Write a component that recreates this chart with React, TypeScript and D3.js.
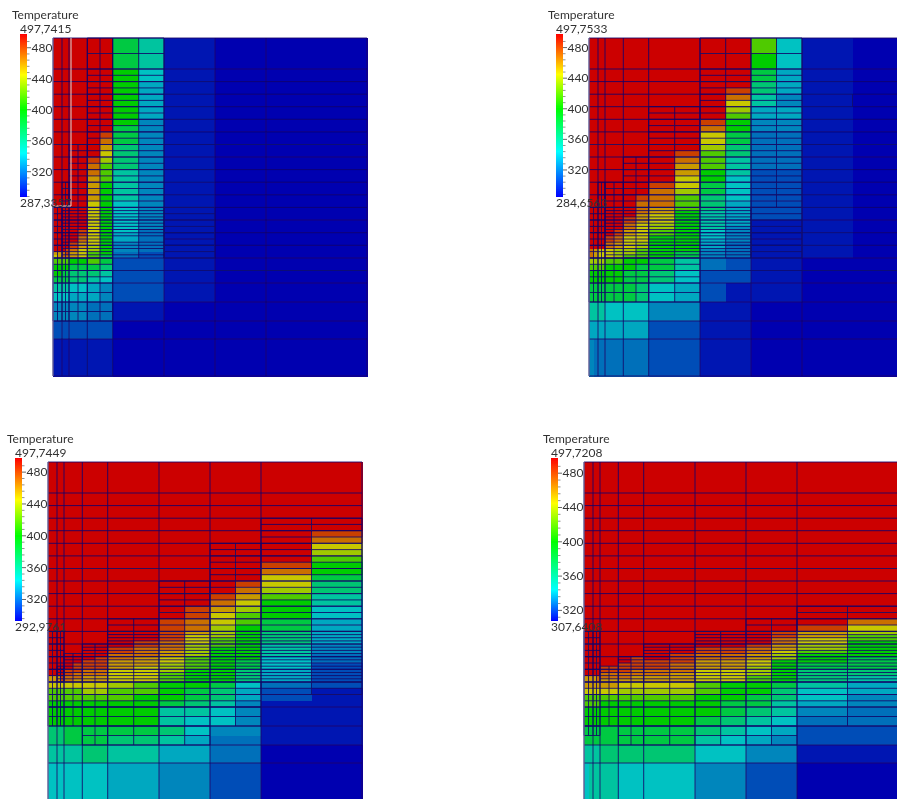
import React from "react";
import * as d3 from "d3";

// Mesh axes (cell edges, in mesh units)
const colEdges = [0, 4.5, 9, 12.5, 16, 25, 34.3, 47, 59.7, 85.7, 111, 136.7, 162, 187.5, 213, 263.5, 314];
const rowEdges = [0, 15.5, 31, 37.3, 43.6, 49.9, 56.2, 62.4, 68.7, 75, 81.3, 87.6, 93.9, 100.2, 106.5, 112.7, 119, 125.3, 131.6, 137.9, 144.2, 150.5, 156.8, 163, 169.4, 172.6, 175.7, 178.9, 182, 185.2, 188.4, 191.5, 194.7, 197.8, 201, 204.2, 207.3, 210.5, 213.6, 216.8, 220, 226.3, 232.5, 238.8, 245, 254.5, 264, 273.5, 283, 301, 338];

// Temperature of each letter used in the cell tables
const levelLetters = "abcdefghijklmnopqr";
const levelTemps = [292, 298, 313, 322, 328, 337, 344, 354, 367, 381, 400, 418, 436, 445, 457, 468, 480, 497];

const panel1Cells = [
  "rrrrrrrrjhbbaaaa", "rrrrrrrrjhbbaaaa", "rrrrrrrrkgbbaaaa", "rrrrrrrrkgbbaaaa", "rrrrrrrrkfbbaaaa",
  "rrrrrrrrkfbbaaaa", "rrrrrrrrkfbbaaaa", "rrrrrrrrkfbbaaaa", "rrrrrrrrkfbbaaaa", "rrrrrrrrkfbbaaaa",
  "rrrrrrrrkebbaaaa", "rrrrrrrrjebbaaaa", "rrrrrrrqjebbaaaa", "rrrrrrrpjebbaaaa", "rrrrrrroiebbaaaa",
  "rrrrrrrniebbaaaa", "rrrrrrqmiebbaaaa", "rrrrrrpliebbaaaa", "rrrrrrplhebbaaaa", "rrrrrrolhebbaaaa",
  "rrrrrrokhebbaaaa", "rrrrrrokhebbaaaa", "rrrrrrokhebbaaaa", "rrrrrrnkgebbaaaa", "rrrrrrnkgebbaaaa",
  "rrrrrrnkgebbaaaa", "rrrrrrnkgebbaaaa", "rrrrrrnkgebbaaaa", "rrrrrrnkgebbaaaa", "rrrrrrnkgebbaaaa",
  "rrrrrrnkgebbaaaa", "rrrrrqnkgdbbaaaa", "rrrrrqnkfdbbaaaa", "rrrrrpnkfdbbaaaa", "rrrrrpnkfdbbaaaa",
  "rrrrqonkedbbaaaa", "rrrrqomkedbbaaaa", "rrrqpnmkedbbaaaa", "oopqonlkdcbbaaaa", "nopponljdcbbaaaa",
  "llllkkljccbbaaaa", "kkkkjjjiccbbaaaa", "kkjjiiihccbbaaaa", "jjjjiihgccbbaaaa", "hhhhggfeccbbaaaa",
  "ggggfffeccbbaaaa", "eeeeeeddbbaaaaaa", "eeeeeeddbbaaaaaa", "ccccccccaaaaaaaa", "bbbbbbbbaaaaaaaa",
];

const panel2Cells = [
  "rrrrrrrrrrrrlgba", "rrrrrrrrrrrrkgba", "rrrrrrrrrrrrjfba", "rrrrrrrrrrrrjfba", "rrrrrrrrrrrrifba",
  "rrrrrrrrrrrqifba", "rrrrrrrrrrrpheba", "rrrrrrrrrrrnheba", "rrrrrrrrrrrmffba", "rrrrrrrrrrrlffba",
  "rrrrrrrrrrqkeeba", "rrrrrrrrrrpkeeba", "rrrrrrrrrrnjddba", "rrrrrrrrrrnjddba", "rrrrrrrrrrmiddba",
  "rrrrrrrrrqliddba", "rrrrrrrrrplhddba", "rrrrrrrrrolhddba", "rrrrrrrrrokhccba", "rrrrrrrrrnkgccba",
  "rrrrrrrrqnjgccba", "rrrrrrrrpmjgccba", "rrrrrrrqpligccba", "rrrrrrrpplifccba", "rrrrrrrpolifccba",
  "rrrrrrrpokhfccba", "rrrrrrronkhfccba", "rrrrrrqonkhfccba", "rrrrrrqonkhfbbba", "rrrrrrpnmkhfbbba",
  "rrrrrrpnmkhebbba", "rrrrrqonlkgebbba", "rrrrrqonlkgebbba", "rrrrqpnnkkgebbba", "rrrrqpnnkkfebbba",
  "rrrrponmkkfdbbba", "rrrrponmkkfdbbba", "ponnnmmlkkedbbba", "ponnnmmlkjedbbba", "ponnnmllkjedbbba",
  "mmmmllkkjhdcbbaa", "llllkkkjjhdcbbaa", "kkkkkkjjigccbbaa", "kkkkkkjjigccbbaa", "jjjjjjjigfcbbbaa",
  "jjjjjjjigfcbbbaa", "hhhhggggeebbaaaa", "hhhhggggeebbaaaa", "ffffffffccbbaaaa", "edddddddccbbaaaa",
];

const panel3Cells = [
  "rrrrrrrrrrrrrrrr", "rrrrrrrrrrrrrrrr", "rrrrrrrrrrrrrrrr", "rrrrrrrrrrrrrrrr", "rrrrrrrrrrrrrrrr",
  "rrrrrrrrrrrrrrrr", "rrrrrrrrrrrrrrrr", "rrrrrrrrrrrrrrrr", "rrrrrrrrrrrrrrrq", "rrrrrrrrrrrrrrrp",
  "rrrrrrrrrrrrrrrn", "rrrrrrrrrrrrrrrm", "rrrrrrrrrrrrrrrl", "rrrrrrrrrrrrrrqk", "rrrrrrrrrrrrrrpk",
  "rrrrrrrrrrrrrrnj", "rrrrrrrrrrrrrqni", "rrrrrrrrrrrrrpmi", "rrrrrrrrrrrrqolh", "rrrrrrrrrrrrpnkh",
  "rrrrrrrrrrrqomkg", "rrrrrrrrrrrqnlkg", "rrrrrrrrrrqpnljf", "rrrrrrrrrrqpmkjf", "rrrrrrrrrrqomkif",
  "rrrrrrrrrrqnmkif", "rrrrrrrrrrqnlkif", "rrrrrrrrrqpnlkif", "rrrrrrrrrqpmlkhe", "rrrrrrrrqppmkkhe",
  "rrrrrrrrqpomkkhe", "rrrrrrrrppomkkhd", "rrrrrrrqponlkkgd", "rrrrrrqqoonlkjgd", "rrrrrqqqoomlkjgc",
  "rrrrrqqqonmlkjgc", "rrrrqqppnnmkkifc", "rrrrqpppnnlkkifc", "oooqppoonnlkkifc", "oooqpooonnlkkifc",
  "nnnnnnnnmlkkjgdc", "llllllmmllkjifcb", "lllllllllkkjifcb", "kkkkkkkkkkjihebb", "kkkkkkkkkkhhgebb",
  "kkkkkkkkkkhggebb", "iiiijjjjjjigeebb", "iiiijjjjiihfddbb", "hhhhhhiihhffddaa", "ggggggggffeeccaa",
];

const panel4Cells = [
  "rrrrrrrrrrrrrrrr", "rrrrrrrrrrrrrrrr", "rrrrrrrrrrrrrrrr", "rrrrrrrrrrrrrrrr", "rrrrrrrrrrrrrrrr",
  "rrrrrrrrrrrrrrrr", "rrrrrrrrrrrrrrrr", "rrrrrrrrrrrrrrrr", "rrrrrrrrrrrrrrrr", "rrrrrrrrrrrrrrrr",
  "rrrrrrrrrrrrrrrr", "rrrrrrrrrrrrrrrr", "rrrrrrrrrrrrrrrr", "rrrrrrrrrrrrrrrr", "rrrrrrrrrrrrrrrr",
  "rrrrrrrrrrrrrrrr", "rrrrrrrrrrrrrrrr", "rrrrrrrrrrrrrrrr", "rrrrrrrrrrrrrrrr", "rrrrrrrrrrrrrrrr",
  "rrrrrrrrrrrrrrrr", "rrrrrrrrrrrrrrrr", "rrrrrrrrrrrrrrrp", "rrrrrrrrrrrrrrqn", "rrrrrrrrrrrrrqom",
  "rrrrrrrrrrrrrqol", "rrrrrrrrrrrrrpnl", "rrrrrrrrrrrrrpnk", "rrrrrrrrrrrrqomk", "rrrrrrrrrrqqpomk",
  "rrrrrrrrrrqqpnlk", "rrrrrrrrrqppomkk", "rrrrrrrqrqppomkj", "rrrrrrrqqqoonkkj", "rrrrrrqqqpoonkjj",
  "rrrrqqqqqpoomkjj", "rrrrqqqpppnnmkii", "rrrrpppppοnnmkii".replace("ο", "o"), "oooppppooonnlkih", "ooopoooooonnlkih",
  "oooooonnnnlkkjhf", "nnnnnnmmmmlkkigf", "llllllllllkkjige", "llllkkkkkkkjjhfe", "kkkkkkkkkkkjihed",
  "kkkkkkkkkkjihgdd", "jjjjjjjjjjihgfcc", "jjjjjjjjjjhgfecc", "hhhhiiiiiiggeebb", "ghhhhhggggeeccaa",
];

// Mesh structure: column and row indices where grid lines occur
const baseCols = [0, 2, 4, 6, 8, 10, 12, 14, 16];
const baseRows = [0, 2, 4, 6, 8, 10, 12, 14, 16, 18, 20, 22, 24, 28, 32, 36, 40, 42, 44, 46, 48, 49, 50];
// refined blocks: colFrom, colTo, colStep, rowFrom, rowTo, rowStep
const panel1Blocks = [
  [6, 10, 1, 0, 24, 1], [4, 6, 1, 14, 24, 1], [2, 4, 1, 20, 24, 1],
  [2, 8, 1, 24, 40, 1], [8, 10, 1, 24, 31, 1], [8, 10, 1, 31, 40, 2], [0, 2, 1, 24, 40, 2],
  [10, 12, 2, 24, 40, 2], [0, 8, 1, 40, 48, 1],
];
const panel2Blocks = [
  [10, 14, 1, 0, 24, 1], [8, 10, 1, 8, 24, 1], [6, 8, 1, 16, 24, 1], [4, 6, 1, 20, 24, 1],
  [4, 12, 1, 24, 40, 1], [12, 14, 2, 24, 40, 2], [0, 4, 1, 24, 40, 2], [0, 8, 1, 40, 46, 1],
  [8, 10, 1, 40, 46, 1], [15, 15, 1, 6, 8, 2], [2, 4, 1, 20, 24, 2],
];
const panel3Blocks = [
  [14, 16, 1, 6, 24, 1], [12, 14, 1, 10, 24, 1], [10, 12, 1, 16, 24, 1], [8, 10, 1, 22, 24, 1],
  [8, 16, 1, 24, 40, 1], [6, 8, 1, 28, 40, 1], [4, 6, 1, 31, 40, 1], [2, 4, 1, 35, 40, 1],
  [0, 4, 1, 24, 40, 2], [0, 14, 1, 40, 44, 1], [14, 16, 1, 40, 42, 1], [0, 14, 1, 44, 46, 1],
  [6, 12, 1, 46, 48, 1],
];
const panel4Blocks = [
  [14, 16, 1, 20, 24, 1], [12, 14, 1, 22, 24, 1], [10, 16, 1, 24, 40, 1], [8, 10, 1, 28, 40, 1],
  [6, 8, 1, 32, 40, 1], [4, 6, 1, 35, 40, 1], [0, 4, 1, 24, 40, 2], [0, 16, 1, 40, 46, 1],
  [6, 14, 1, 46, 48, 1], [0, 4, 1, 46, 47, 1],
];

const tickMajor = [480, 440, 400, 360, 320];
const tickMinor = [488, 472, 464, 456, 448, 432, 424, 416, 408, 392, 384, 376, 368, 352, 344, 336, 328, 312, 304, 296, 288];

const panels = [
  { title: "Temperature", max: "497,7415", min: "287,3357", lo: 287.3357, hi: 497.7415, cells: panel1Cells, blocks: panel1Blocks, left: 53, top: 38, bar: 20, barTop: 34 },
  { title: "Temperature", max: "497,7533", min: "284,6563", lo: 284.6563, hi: 497.7533, cells: panel2Cells, blocks: panel2Blocks, left: 589, top: 38, bar: 556, barTop: 34 },
  { title: "Temperature", max: "497,7449", min: "292,9761", lo: 292.9761, hi: 497.7449, cells: panel3Cells, blocks: panel3Blocks, left: 48, top: 462, bar: 15, barTop: 458 },
  { title: "Temperature", max: "497,7208", min: "307,6408", lo: 307.6408, hi: 497.7208, cells: panel4Cells, blocks: panel4Blocks, left: 584, top: 462, bar: 551, barTop: 458 },
];

const tempStops = [344, 400, 445];
const cellColor = d3.scaleLinear<string>()
  .domain([292, ...tempStops, 497])
  .range(["#0000b0", "#00c2c2", "#00cc00", "#c8c800", "#cc0000"])
  .clamp(true);
const legendColors = ["#0000ff", "#00ffff", "#00ff00", "#ffff00", "#ff0000"];
const FONT = "Lato, 'Open Sans', sans-serif";
const BAR_H = 163;
const BAR_W = 7;

function Panel({ p, i }: { p: (typeof panels)[number]; i: number }) {
  const x = d3.scaleLinear().domain([0, 314]).range([p.left, p.left + 314]);
  const y = d3.scaleLinear().domain([0, 338]).range([p.top, p.top + 338]);
  const cx = (c: number) => x(colEdges[c]);
  const cy = (r: number) => y(rowEdges[r]);

  const mesh = d3.path();
  const hLine = (r: number, c0: number, c1: number) => { mesh.moveTo(cx(c0), cy(r)); mesh.lineTo(cx(c1), cy(r)); };
  const vLine = (c: number, r0: number, r1: number) => { mesh.moveTo(cx(c), cy(r0)); mesh.lineTo(cx(c), cy(r1)); };
  baseRows.forEach((r) => hLine(r, 0, 16));
  baseCols.forEach((c) => vLine(c, 0, 50));
  p.blocks.forEach(([c0, c1, cs, r0, r1, rs]) => {
    d3.range(c0, c1 + 1, cs).forEach((c) => vLine(c, r0, r1));
    d3.range(r0, r1 + 1, rs).forEach((r) => hLine(r, c0, c1));
  });

  const leg = d3.scaleLinear().domain([p.lo, p.hi]).range([p.barTop + BAR_H, p.barTop]);
  const legColor = d3.scaleLinear<string>().domain([p.lo, ...tempStops, p.hi]).range(legendColors);
  const gradStops = [p.lo, ...tempStops, p.hi];
  const tickX = p.bar + BAR_W;

  return (
    <g>
      <defs>
        <linearGradient id={`leg${i}`} x1="0" y1="1" x2="0" y2="0">
          {gradStops.map((t) => (
            <stop key={t} offset={(t - p.lo) / (p.hi - p.lo)} stopColor={legColor(t)} />
          ))}
        </linearGradient>
      </defs>
      <g shapeRendering="crispEdges">
        {p.cells.map((row, r) =>
          row.split("").map((ch, c) => (
            <rect
              key={`${r}-${c}`}
              x={cx(c)}
              y={cy(r)}
              width={cx(c + 1) - cx(c) + 0.5}
              height={cy(r + 1) - cy(r) + 0.5}
              fill={cellColor(levelTemps[levelLetters.indexOf(ch)])}
            />
          ))
        )}
      </g>
      <path d={mesh.toString()} fill="none" stroke="#14086a" strokeOpacity={0.85} strokeWidth={1} />
      <line x1={p.left} x2={p.left} y1={p.top} y2={p.top + 338} stroke="#8080a8" />
      {i === 0 && (
        <path
          d={`M${x(0)},${y(168)}H${x(18)}V${y(0)}`}
          fill="none"
          stroke="#d8d8d8"
          strokeWidth={1}
        />
      )}
      <rect x={p.bar} y={p.barTop} width={BAR_W} height={BAR_H} fill={`url(#leg${i})`} />
      {tickMinor.filter((t) => t > p.lo && t < p.hi).map((t) => (
        <line key={t} x1={tickX} x2={tickX + 2.5} y1={leg(t)} y2={leg(t)} stroke="#777" strokeWidth={0.8} />
      ))}
      {tickMajor.filter((t) => t > p.lo).map((t) => (
        <g key={t}>
          <line x1={tickX} x2={tickX + 4} y1={leg(t)} y2={leg(t)} stroke="#555" strokeWidth={0.9} />
          <text x={tickX + 4.5} y={leg(t) + 4} fontSize={12} fontFamily={FONT} fill="#333">{t}</text>
        </g>
      ))}
      <text x={p.bar - 8} y={p.barTop - 15} fontSize={12} fontFamily={FONT} fill="#333">{p.title}</text>
      <text x={p.bar} y={p.barTop - 1} fontSize={12} fontFamily={FONT} fill="#333">{p.max}</text>
      <text x={p.bar} y={p.barTop + BAR_H + 10} fontSize={12} fontFamily={FONT} fill="#333">{p.min}</text>
    </g>
  );
}

export default function App() {
  return (
    <svg
      width={897}
      height={799}
      viewBox="0 0 897 799"
      style={{ position: "absolute", left: 0, top: 0, background: "#fff", overflow: "hidden" }}
    >
      <defs>
        <filter id="soft" x="0" y="0" width="100%" height="100%">
          <feGaussianBlur stdDeviation={0.4} />
        </filter>
      </defs>
      <g filter="url(#soft)">
        <rect width={897} height={799} fill="#fff" />
        {panels.map((p, i) => (
          <Panel key={i} p={p} i={i} />
        ))}
      </g>
    </svg>
  );
}
